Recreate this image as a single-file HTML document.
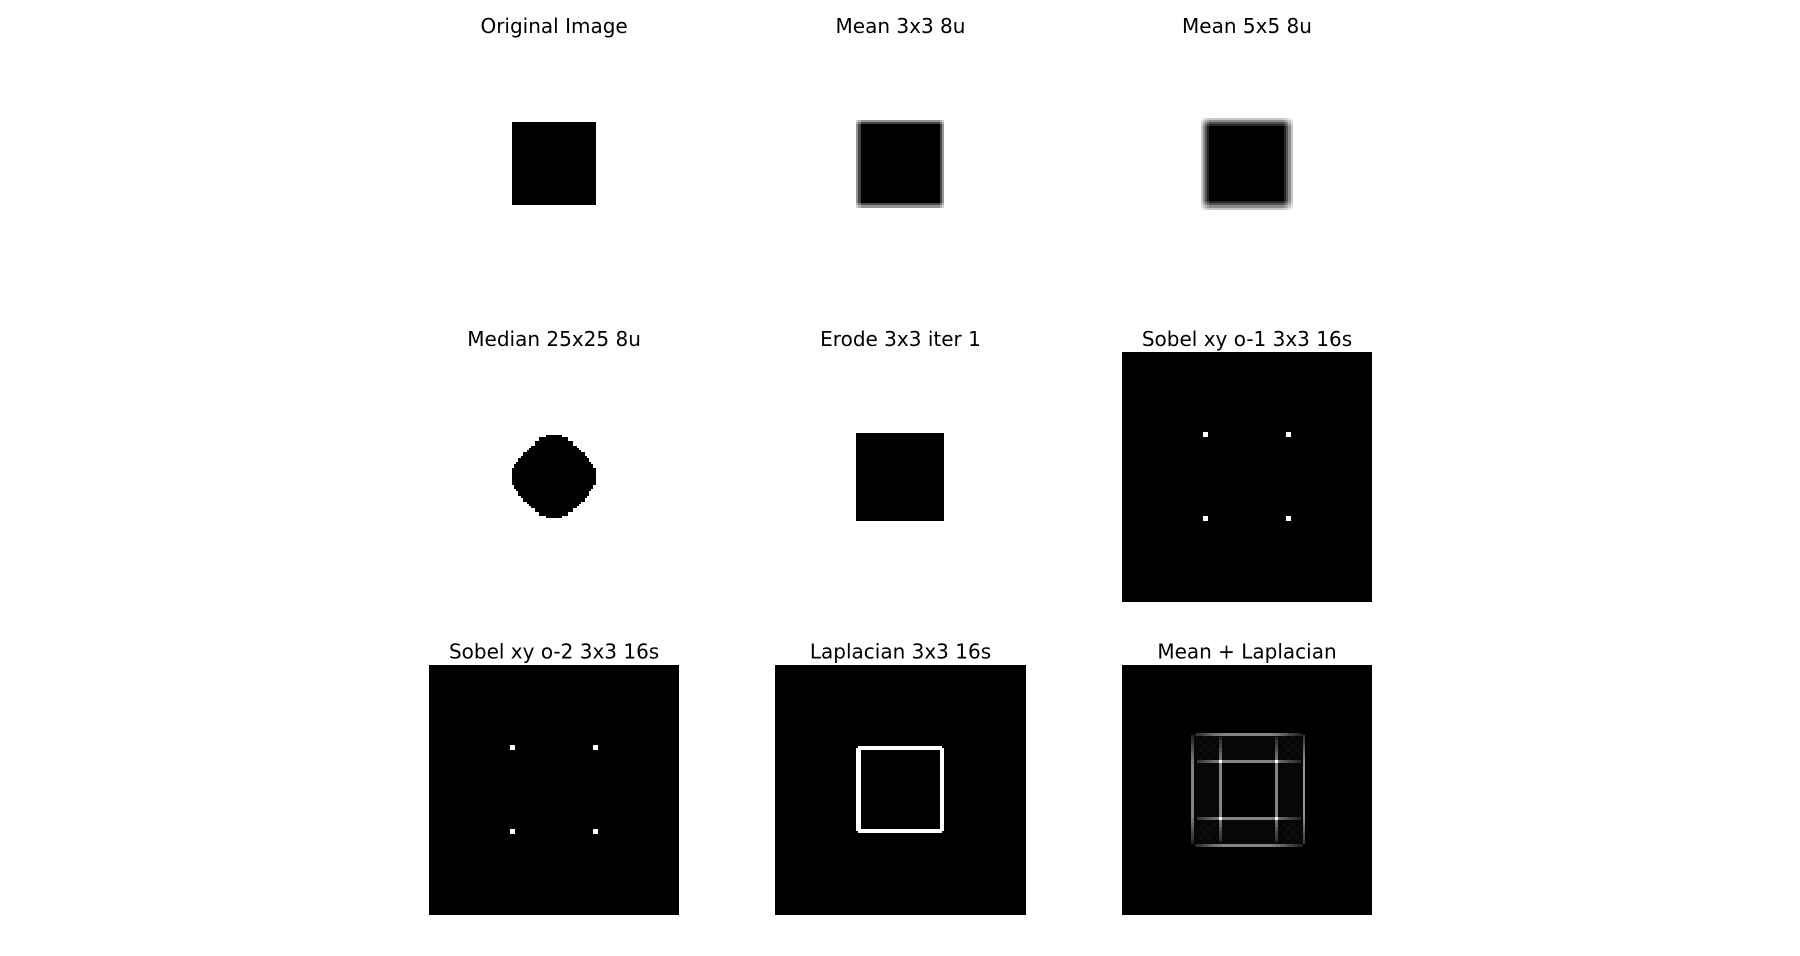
<!DOCTYPE html>
<html lang="en">
<head>
<meta charset="utf-8">
<title>Image filter comparison</title>
<style>
html,body{margin:0;padding:0;background:#fff;width:1800px;height:956px;overflow:hidden}
svg{display:block}
text{font-family:"DejaVu Sans","Liberation Sans",sans-serif;font-size:20px;fill:#000;text-anchor:middle}
</style>
</head>
<body>
<svg id="figure" xmlns="http://www.w3.org/2000/svg" width="1800" height="956" viewBox="0 0 1800 956"></svg>
<script>
const panelTitles = [
  'Original Image', 'Mean 3x3 8u', 'Mean 5x5 8u',
  'Median 25x25 8u', 'Erode 3x3 iter 1', 'Sobel xy o-1 3x3 16s',
  'Sobel xy o-2 3x3 16s', 'Laplacian 3x3 16s', 'Mean + Laplacian'
];
const panelNames = [
  'original-image', 'mean-3x3', 'mean-5x5',
  'median-25x25', 'erode-3x3', 'sobel-o1',
  'sobel-o2', 'laplacian-3x3', 'mean-plus-laplacian'
];
const gridSize = [120];
const squareRange = [40, 79];
const erodeRange = [39, 80];
const mean3EdgeCoverage = [0.42, 0.72];
const mean5EdgeCoverage = [0.22, 0.45, 0.68, 0.85];
const medianHalfWidths = [4,7,7,9,9,11,12,13,15,15,16,17,17,18,19,19,20,20,20,20,20,20,20,20,19,19,18,17,17,16,15,15,13,12,11,9,9,7,7,4];
const edgeIndices = [39, 40, 79, 80];
const sobelDotStarts = [39, 79];
const comboOuterCols = [33, 87];
const comboOuterRows = [33, 86];
const comboInnerCols = [47, 74];
const comboInnerRows = [46, 73];
const comboLineProfile = [30,40,40,55,55,70,70,85,85,100,100,115,115,125,125];
const comboLineLevel = [132];
const comboStripLevel = [7];
const comboCornerBlocks = [
  [8,5,11,6,10,6],
  [5,12,6,13,6,9],
  [10,6,14,7,12,5],
  [6,13,7,15,6,9],
  [9,6,12,6,11,6],
  [6,9,5,9,6,7]
];

const layoutCols = [429.1, 775, 1122];
const layoutRows = [39, 352, 664.7];
const panelSpans = [250, 251, 250];
const SVG_NS = 'http://www.w3.org/2000/svg';
const figure = document.getElementById('figure');

function xAxis(col, c) { return Math.round(layoutCols[col] + c * panelSpans[col] / gridSize[0] - 0.2); }
function yAxis(row, r) { return Math.round(layoutRows[row] + r * 250 / gridSize[0] - 0.2); }
function edgeCoverage(i, profile, firstIndex) {
  const d = Math.min(i, gridSize[0] - 1 - i) - firstIndex;
  if (d < 0) return 0;
  return d < profile.length ? profile[d] : 1;
}
function inSquare(i) { return i >= squareRange[0] && i <= squareRange[1]; }

function originalValue(r, c) { return inSquare(r) && inSquare(c) ? 0 : 255; }
function mean3Value(r, c) {
  return Math.round(255 * (1 - edgeCoverage(r, mean3EdgeCoverage, 39) * edgeCoverage(c, mean3EdgeCoverage, 39)));
}
function mean5Value(r, c) {
  return Math.round(255 * (1 - edgeCoverage(r, mean5EdgeCoverage, 38) * edgeCoverage(c, mean5EdgeCoverage, 38)));
}
function medianValue(r, c) {
  if (!inSquare(r)) return 255;
  const hw = medianHalfWidths[r - squareRange[0]];
  return c >= 60 - hw && c <= 59 + hw ? 0 : 255;
}
function erodeValue(r, c) {
  return r >= erodeRange[0] && r <= erodeRange[1] && c >= erodeRange[0] && c <= erodeRange[1] ? 0 : 255;
}
function blackValue() { return 0; }
function laplacianValue(r, c) {
  if (edgeIndices.includes(r) && inSquare(c)) return 255;
  if (edgeIndices.includes(c) && inSquare(r)) return 255;
  return 0;
}
function comboLine(i) {
  const d = Math.min(i, gridSize[0] - 1 - i) - 33;
  if (d < 0) return 0;
  return d < comboLineProfile.length ? comboLineProfile[d] : comboLineLevel[0];
}
function comboValue(r, c) {
  const inside = r >= 34 && r <= 85 && c >= 34 && c <= 86;
  if (!inside) return 0;
  const mr = r < 60 ? r : 119 - r, mc = c < 60 ? c : 121 - c;
  if (mr < 46 && mc < 47) {
    const br = Math.min(5, Math.max(0, Math.floor((mr - 34) / 2)));
    const bc = Math.min(5, Math.max(0, Math.floor((mc - 35) / 2)));
    return comboCornerBlocks[br][bc];
  }
  if (mr > 46 && mc > 47) return 0;
  return comboStripLevel[0];
}

const panelValueFns = [
  originalValue, mean3Value, mean5Value,
  medianValue, erodeValue, blackValue,
  blackValue, laplacianValue, comboValue
];

function grayFill(v) { return 'rgb(' + v + ',' + v + ',' + v + ')'; }

function addSobelDots(group, col, row) {
  sobelDotStarts.forEach(function (r) {
    sobelDotStarts.forEach(function (c) {
      const dot = document.createElementNS(SVG_NS, 'rect');
      
      
      dot.setAttribute('x', xAxis(col, c));
      dot.setAttribute('y', yAxis(row, r) - (r === sobelDotStarts[0] ? 1 : 0));
      dot.setAttribute('width', 5);
      dot.setAttribute('height', 5);
      dot.setAttribute('fill', '#fff');
      group.appendChild(dot);
    });
  });
}

function addComboLines(group, col, row) {
  const thick = 3;
  const lineX = function (c) { return xAxis(col, c) - (comboOuterCols.includes(c) ? 0 : 1); };
  const lineY = function (r) { return yAxis(row, r); };
  comboOuterCols.concat(comboInnerCols).forEach(function (c) {
    const isOuter = comboOuterCols.includes(c);
    const first = isOuter ? 34 : 35;
    const last = isOuter ? 85 : 84;
    for (let r = first; r <= last; r++) {
      const seg = document.createElementNS(SVG_NS, 'rect');
      
      
      seg.setAttribute('x', lineX(c));
      seg.setAttribute('y', yAxis(row, r));
      seg.setAttribute('width', c === comboOuterCols[1] ? 2 : thick);
      seg.setAttribute('height', yAxis(row, r + 1) - yAxis(row, r));
      seg.setAttribute('fill', grayFill(comboLine(r) + (c === comboOuterCols[1] ? 20 : 0)));
      group.appendChild(seg);
    }
  });
  comboOuterRows.concat(comboInnerRows).forEach(function (r) {
    const isOuter = comboOuterRows.includes(r);
    const first = isOuter ? 35 : 36;
    const last = isOuter ? 86 : 85;
    for (let c = first; c <= last; c++) {
      const seg = document.createElementNS(SVG_NS, 'rect');
      
      
      seg.setAttribute('x', xAxis(col, c));
      seg.setAttribute('y', lineY(r));
      seg.setAttribute('width', xAxis(col, c + 1) - xAxis(col, c));
      seg.setAttribute('height', thick);
      seg.setAttribute('fill', grayFill(comboLine(c)));
      group.appendChild(seg);
    }
  });
  comboInnerCols.forEach(function (c) {
    comboInnerRows.forEach(function (r) {
      const spot = document.createElementNS(SVG_NS, 'rect');
      
      
      spot.setAttribute('x', lineX(c));
      spot.setAttribute('y', lineY(r));
      spot.setAttribute('width', thick);
      spot.setAttribute('height', thick);
      spot.setAttribute('fill', '#fff');
      group.appendChild(spot);
    });
  });
}

panelTitles.forEach(function (title, index) {
  const col = index % 3;
  const row = Math.floor(index / 3);
  const group = document.createElementNS(SVG_NS, 'g');
  
  
  group.setAttribute('shape-rendering', 'crispEdges');

  const valueAt = panelValueFns[index];
  for (let r = 0; r < gridSize[0]; r++) {
    let start = 0;
    for (let c = 1; c <= gridSize[0]; c++) {
      if (c === gridSize[0] || valueAt(r, c) !== valueAt(r, start)) {
        const v = valueAt(r, start);
        const run = document.createElementNS(SVG_NS, 'rect');
        
        
        run.setAttribute('x', xAxis(col, start));
        run.setAttribute('y', yAxis(row, r));
        run.setAttribute('width', xAxis(col, c) - xAxis(col, start));
        run.setAttribute('height', yAxis(row, r + 1) - yAxis(row, r));
        run.setAttribute('fill', grayFill(v));
        group.appendChild(run);
        start = c;
      }
    }
  }
  if (index === 5 || index === 6) addSobelDots(group, col, row);
  if (index === 8) addComboLines(group, col, row);
  figure.appendChild(group);

  const label = document.createElementNS(SVG_NS, 'text');
  
  
  label.setAttribute('x', layoutCols[col] + panelSpans[col] / 2);
  label.setAttribute('y', layoutRows[row] - 6);
  label.textContent = title;
  figure.appendChild(label);
});
</script>
</body>
</html>
